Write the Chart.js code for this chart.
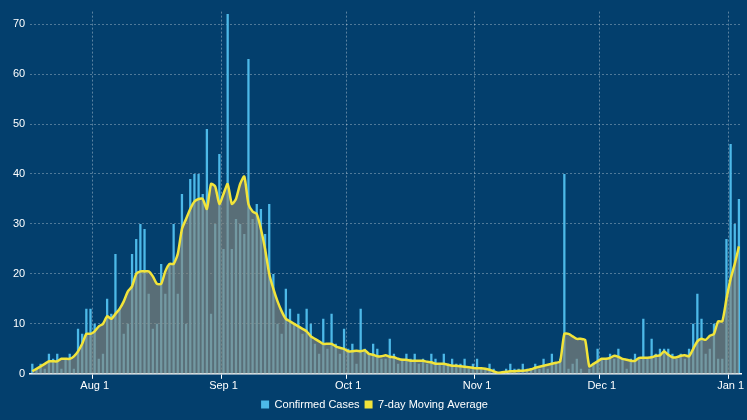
<!DOCTYPE html>
<html><head><meta charset="utf-8">
<script src="https://cdn.jsdelivr.net/npm/chart.js@4/dist/chart.umd.min.js"></script>
<style>html,body{margin:0;padding:0;background:#033f6d;}#w{width:747px;height:420px;}</style>
</head><body><div id="w"><canvas id="c"></canvas></div>
<script>
const startDate = [2020, 6, 17];
const cases = [2,1,2,1,4,3,4,1,3,4,1,9,8,13,13,
10,3,4,15,12,24,13,8,10,24,27,30,29,16,9,10,22,16,22,30,16,36,10,39,40,40,36,49,12,30,44,
25,72,25,31,30,28,63,31,34,33,28,34,20,10,8,17,13,10,12,8,13,10,6,4,11,5,12,6,4,9,
5,6,2,13,5,4,6,5,3,3,7,4,2,3,4,3,4,2,3,2,4,3,2,4,2,3,2,2,3,1,2,
3,1,1,2,1,0,0,1,2,1,1,2,1,1,2,1,3,1,4,2,3,40,1,2,3,1,0,1,2,5,
3,3,4,3,5,3,1,3,4,3,11,3,7,4,5,5,5,4,3,4,3,5,10,16,11,4,5,10,3,3,27,
46,30,35];
const movingAvg = [0.5,1,1.5,2,2.5,2.5,2.5,3,3,3,3.5,4.5,6,8,8,
8.5,9.5,10,11.5,11,12,13,14.5,16.5,17.5,20,20.5,20.5,20.5,19.5,18,18,20.5,22,22,24,29,31,33,34.5,35,35,33,38,37.5,34,
36,38,34,35,38,39.5,34,32.5,32,29,25,20,17,14.5,12.5,11,10.5,10,9.5,9,8.5,7.5,7,6.5,6,6,6,5.5,5.2,5,
4.5,4.5,4.6,4.5,4.7,4,3.8,3.5,3.5,3.7,3.4,3.3,3,2.8,2.8,2.6,2.6,2.6,2.6,2.4,2.3,2,2,2,1.8,1.6,1.6,1.5,1.4,1.3,1.2,
1.1,1.1,1,0.8,0.5,0.2,0.3,0.4,0.5,0.5,0.6,0.6,0.7,0.9,1.2,1.4,1.6,1.8,2,2.2,2.5,8,8,7.5,7,7,6.8,1.5,2,2.5,
3,3,3.2,3.6,3.4,3,2.8,2.6,2.6,3.2,3.2,3.2,3.3,3.6,3.7,4.5,3.8,3.3,3.3,3.6,3.7,3.5,5,6.5,7,6.8,7.6,8,10.5,10.5,15,
19,22,25.5];
const yTicks = [0,10,20,30,40,50,60,70];
const months = ['Jan','Feb','Mar','Apr','May','Jun','Jul','Aug','Sep','Oct','Nov','Dec'];
const labels = [];
const firsts = [];
for (let i = 0; i < cases.length; i++) {
  const d = new Date(startDate[0], startDate[1], startDate[2] + i);
  labels.push(months[d.getMonth()] + ' ' + d.getDate());
  firsts.push(d.getDate() === 1);
}
new Chart(document.getElementById('c'), {
  data: { labels, datasets: [
    { type:'bar', label:'Confirmed Cases', data: cases, backgroundColor:'#4db9e8', categoryPercentage:1, barPercentage:0.55, order:1 },
    { type:'line', label:'7-day Moving Average', data: movingAvg, borderColor:'#f2e43a', backgroundColor:'rgba(135,135,125,0.65)', fill:'origin', borderWidth:2.5, pointRadius:0, tension:0.2, order:0 }
  ]},
  options: {
    responsive:true, maintainAspectRatio:false, animation:false,
    layout:{padding:{left:8,right:6,top:-9,bottom:0}},
    plugins:{ legend:{ position:'bottom', labels:{ color:'#ffffff', font:{family:'Liberation Sans', size:11}, boxWidth:8, boxHeight:8, padding:5,
      generateLabels:(ch)=> ch.data.datasets.map((ds,i)=>({text:ds.label, fillStyle: i===0 ? '#4db9e8' : '#f2e43a', strokeStyle: i===0 ? '#4db9e8' : '#f2e43a', lineWidth:0, fontColor:'#ffffff', datasetIndex:i})) }}, tooltip:{enabled:false}},
    scales:{
      x:{ offset:true, grid:{ color:(c)=> firsts[c.index] ? 'rgba(255,255,255,0.35)' : 'rgba(0,0,0,0)', tickColor:(c)=> firsts[c.index] ? '#ffffff' : 'rgba(0,0,0,0)', tickLength:5, drawOnChartArea:true },
          border:{color:'#ffffff', width:1.5, dash:[2,2]},
          ticks:{ autoSkip:false, maxRotation:0, color:'#ffffff', font:{family:'Liberation Sans', size:11}, padding:1,
            callback:(v,i)=> firsts[i] ? labels[i] : '' } },
      y:{ min:0, max:72.5, afterBuildTicks:(a)=>{ a.ticks = yTicks.map(v=>({value:v})); },
          grid:{ color:'rgba(255,255,255,0.3)', drawTicks:false }, border:{display:false, dash:[2,2]},
          ticks:{ color:'#ffffff', font:{family:'Liberation Sans', size:11}, padding:5 } }
    }
  }
});
</script></body></html>
